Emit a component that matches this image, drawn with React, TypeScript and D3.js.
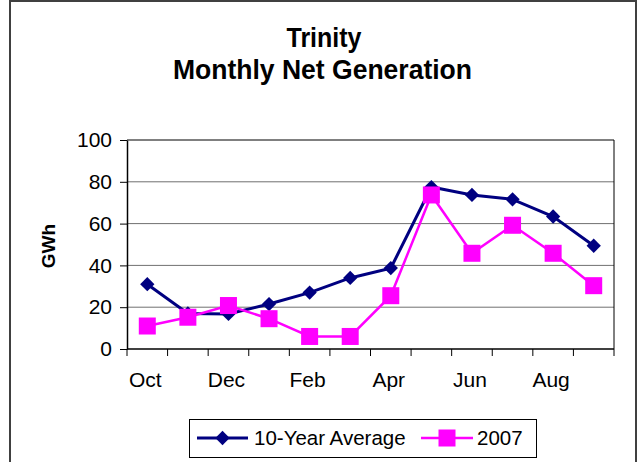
import { useEffect, useRef } from 'react'
import * as d3 from 'd3'

const months = ['Oct', 'Nov', 'Dec', 'Jan', 'Feb', 'Mar', 'Apr', 'May', 'Jun', 'Jul', 'Aug', 'Sep']
const avgValues = [31, 17, 16.8, 21.5, 27, 34, 38.7, 77.5, 73.7, 71.6, 63.4, 49.4]
const values2007 = [11, 15.2, 20.8, 14.5, 6, 6, 25.5, 73.7, 45.8, 59.2, 45.8, 30.3]
const yTicks = [0, 20, 40, 60, 80, 100]
const labelledMonths = ['Oct', 'Dec', 'Feb', 'Apr', 'Jun', 'Aug']

const NAVY = '#000080'
const MAGENTA = '#FF00FF'
const FONT = 'Arial, "Liberation Sans", sans-serif'

export default function App() {
  const svgRef = useRef<SVGSVGElement>(null)

  useEffect(() => {
    const svg = d3.select(svgRef.current)
    svg.selectAll('*').remove()

    const plot = { left: 127, right: 614, top: 140, bottom: 349 }

    // frame around the whole chart (no bottom edge visible)
    svg.append('path')
      .attr('d', 'M10,462 L10,1 L636,1 L636,462')
      .attr('fill', 'none')
      .attr('stroke', '#404040')
      .attr('stroke-width', 2)

    // title
    svg.append('text')
      .attr('x', 324).attr('y', 47)
      .attr('text-anchor', 'middle')
      .attr('font-family', FONT).attr('font-weight', 'bold').attr('font-size', 28)
      .attr('textLength', 75).attr('lengthAdjust', 'spacingAndGlyphs')
      .text('Trinity')
    svg.append('text')
      .attr('x', 322.5).attr('y', 79)
      .attr('text-anchor', 'middle')
      .attr('font-family', FONT).attr('font-weight', 'bold').attr('font-size', 28)
      .attr('textLength', 299).attr('lengthAdjust', 'spacingAndGlyphs')
      .text('Monthly Net Generation')

    const x = d3.scaleBand().domain(months).range([plot.left, plot.right])
    const y = d3.scaleLinear().domain([0, 100]).range([plot.bottom, plot.top])

    // gridlines
    svg.append('g').selectAll('line')
      .data(yTicks.filter(t => t > 0))
      .join('line')
      .attr('x1', plot.left).attr('x2', plot.right)
      .attr('y1', d => y(d)).attr('y2', d => y(d))
      .attr('stroke', d => d === 100 ? '#000' : '#707070')
      .attr('stroke-width', 1)

    // right border of plot area
    svg.append('line')
      .attr('x1', plot.right).attr('x2', plot.right)
      .attr('y1', plot.top).attr('y2', plot.bottom)
      .attr('stroke', '#000')

    // y axis
    const yAxis = svg.append('g')
      .attr('transform', `translate(${plot.left},0)`)
      .call(d3.axisLeft(y).tickValues(yTicks).tickSize(7).tickSizeOuter(0).tickPadding(8))
    yAxis.select('.domain').attr('stroke', '#000').attr('stroke-width', 1.5)
    yAxis.selectAll('text')
      .attr('font-family', FONT).attr('font-size', 21).attr('fill', '#000')
    yAxis.selectAll('line').attr('stroke', '#000')

    // x axis
    const xAxis = svg.append('g')
      .attr('transform', `translate(0,${plot.bottom})`)
    xAxis.append('line')
      .attr('x1', plot.left).attr('x2', plot.right)
      .attr('stroke', '#000').attr('stroke-width', 1.5)
    const edges = months.map(m => x(m) as number).concat([plot.right])
    xAxis.selectAll('line.tick')
      .data(edges)
      .join('line')
      .attr('class', 'tick')
      .attr('x1', d => d).attr('x2', d => d)
      .attr('y1', 0).attr('y2', 7)
      .attr('stroke', '#000')
    xAxis.selectAll('text')
      .data(labelledMonths)
      .join('text')
      .attr('x', d => (x(d) as number) + x.bandwidth() / 2 - 2)
      .attr('y', 38)
      .attr('text-anchor', 'middle')
      .attr('font-family', FONT).attr('font-size', 21)
      .text(d => d)

    // y label
    svg.append('text')
      .attr('transform', 'translate(55,246) rotate(-90)')
      .attr('text-anchor', 'middle')
      .attr('font-family', FONT).attr('font-weight', 'bold').attr('font-size', 19)
      .text('GWh')

    const cx = (i: number) => (x(months[i]) as number) + x.bandwidth() / 2
    const line = d3.line<number>().x((_, i) => cx(i)).y(d => y(d))

    // 10-year average
    svg.append('path')
      .datum(avgValues)
      .attr('d', line)
      .attr('fill', 'none').attr('stroke', NAVY).attr('stroke-width', 3)
    const diamond = d3.symbol().type(d3.symbolDiamond2).size(130)
    svg.append('g').selectAll('path')
      .data(avgValues)
      .join('path')
      .attr('transform', (d, i) => `translate(${cx(i)},${y(d)})`)
      .attr('d', diamond)
      .attr('fill', NAVY)

    // 2007
    svg.append('path')
      .datum(values2007)
      .attr('d', line)
      .attr('fill', 'none').attr('stroke', MAGENTA).attr('stroke-width', 2.5)
    svg.append('g').selectAll('rect')
      .data(values2007)
      .join('rect')
      .attr('x', (_, i) => cx(i) - 8.5)
      .attr('y', d => y(d) - 8.5)
      .attr('width', 17).attr('height', 17)
      .attr('fill', MAGENTA)

    // legend
    const lg = svg.append('g')
    lg.append('rect')
      .attr('x', 189.5).attr('y', 419.5).attr('width', 347).attr('height', 38)
      .attr('fill', '#fff').attr('stroke', '#000').attr('stroke-width', 1)
    lg.append('line')
      .attr('x1', 197).attr('x2', 248).attr('y1', 438).attr('y2', 438)
      .attr('stroke', NAVY).attr('stroke-width', 3)
    lg.append('path')
      .attr('transform', 'translate(222.5,438)')
      .attr('d', diamond)
      .attr('fill', NAVY)
    lg.append('text')
      .attr('x', 254).attr('y', 445)
      .attr('font-family', FONT).attr('font-size', 20.5)
      .text('10-Year Average')
    lg.append('line')
      .attr('x1', 421).attr('x2', 473).attr('y1', 438).attr('y2', 438)
      .attr('stroke', MAGENTA).attr('stroke-width', 2.5)
    lg.append('rect')
      .attr('x', 438.5).attr('y', 429.5).attr('width', 17).attr('height', 17)
      .attr('fill', MAGENTA)
    lg.append('text')
      .attr('x', 477).attr('y', 445)
      .attr('font-family', FONT).attr('font-size', 20.5)
      .text('2007')
  }, [])

  return (
    <svg
      ref={svgRef}
      width={640}
      height={462}
      style={{ position: 'absolute', left: 0, top: 0, background: '#fff' }}
    />
  )
}
